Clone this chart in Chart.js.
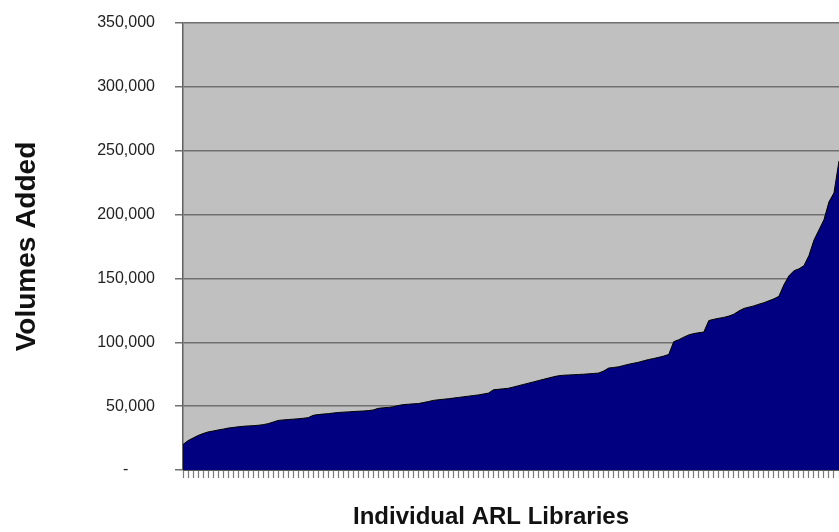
<!DOCTYPE html>
<html>
<head>
<meta charset="utf-8">
<script src="https://cdn.jsdelivr.net/npm/chart.js@4/dist/chart.umd.min.js"></script>
<style>
  html, body { margin: 0; padding: 0; background: #ffffff; }
  #wrap { width: 839px; height: 532px; position: relative; }
</style>
</head>
<body>
<div id="wrap"><canvas id="chart"></canvas></div>
<script>
// Volumes added per library, sorted ascending (one value per ARL library)
const volumesAdded = [
  20000, 23000, 25000, 27000, 28500, 29800, 30500, 31300, 32000, 32800,
  33300, 33800, 34200, 34500, 34700, 35000, 35500, 36300, 37500, 38800,
  39200, 39500, 39800, 40100, 40500, 41000, 42800, 43400, 43800, 44100,
  44600, 45000, 45300, 45500, 45800, 46000, 46200, 46500, 47000, 48300,
  48700, 49000, 49500, 50500, 51200, 51500, 51800, 52000, 52800, 53600,
  54500, 55000, 55400, 55800, 56300, 56800, 57300, 57800, 58300, 58800,
  59500, 60200, 62800, 63200, 63600, 64000, 65000, 66000, 67000, 68000,
  69000, 70000, 71000, 72000, 73000, 73800, 74200, 74400, 74600, 74800,
  75000, 75300, 75600, 75900, 77500, 79800, 80300, 80800, 81800, 82800,
  83600, 84400, 85500, 86500, 87300, 88200, 89200, 90500, 100500, 102000,
  104000, 105800, 106800, 107500, 108000, 117000, 118000, 118800, 119500, 120500,
  122000, 124500, 126500, 127500, 128500, 129800, 131000, 132500, 134000, 136000,
  145000, 152000, 156000, 157500, 160000, 168000, 180000, 188000, 196000, 210000,
  217000, 242000
];

// One unlabeled category per library
const libraries = volumesAdded.map(() => '');

const yTitle = 'Volumes Added';
const xTitle = 'Individual ARL Libraries';

// Gray plot-area background
const plotBackground = {
  id: 'plotBackground',
  beforeDraw(chart) {
    const { ctx, chartArea: a } = chart;
    ctx.save();
    ctx.fillStyle = '#c0c0c0';
    ctx.fillRect(a.left, a.top, a.right - a.left, a.bottom - a.top);
    ctx.restore();
  }
};

new Chart(document.getElementById('chart'), {
  type: 'line',
  data: {
    labels: libraries,
    datasets: [{
      data: volumesAdded,
      fill: 'origin',
      backgroundColor: '#000080',
      borderColor: '#000000',
      borderWidth: 1,
      pointRadius: 0,
      tension: 0
    }]
  },
  options: {
    responsive: true,
    maintainAspectRatio: false,
    animation: false,
    layout: { padding: { top: 23, right: 0, left: 0, bottom: 0 } },
    plugins: {
      legend: { display: false },
      tooltip: { enabled: false }
    },
    scales: {
      x: {
        type: 'category',
        offset: false,
        grid: {
          drawOnChartArea: false,
          drawTicks: true,
          tickLength: 8,
          tickColor: '#7a7a7a',
          tickWidth: 1.2
        },
        border: { display: true, color: '#606060', width: 1 },
        ticks: {
          autoSkip: false,
          maxRotation: 0,
          padding: 0,
          font: { size: 1 }
        },
        title: {
          display: true,
          text: xTitle + '      ',
          color: '#111111',
          font: { family: 'Liberation Sans, Arial, sans-serif', size: 24, weight: 'bold' },
          padding: { top: 0, bottom: 0 }
        },
        afterFit(scale) {
          scale.height = 62;
          scale.paddingTop = 0;
          scale.paddingBottom = 0;
        }
      },
      y: {
        min: 0,
        max: 350000,
        grid: {
          color: '#707070',
          lineWidth: 1.5,
          drawTicks: true,
          tickLength: 8,
          tickColor: '#707070'
        },
        border: { display: true, color: '#606060', width: 1.5 },
        ticks: {
          stepSize: 50000,
          padding: 20,
          color: '#222222',
          font: { family: 'Liberation Sans, Arial, sans-serif', size: 16 },
          callback: (v) => v === 0 ? '-      ' : v.toLocaleString('en-US')
        },
        title: {
          display: true,
          text: yTitle,
          color: '#111111',
          font: { family: 'Liberation Sans, Arial, sans-serif', size: 28, weight: 'bold' },
          padding: { top: 10, bottom: 0 }
        },
        afterFit(scale) {
          scale.width = 183;
          scale.paddingTop = 0;
          scale.paddingBottom = 0;
        }
      }
    }
  },
  plugins: [plotBackground]
});
</script>
</body>
</html>
